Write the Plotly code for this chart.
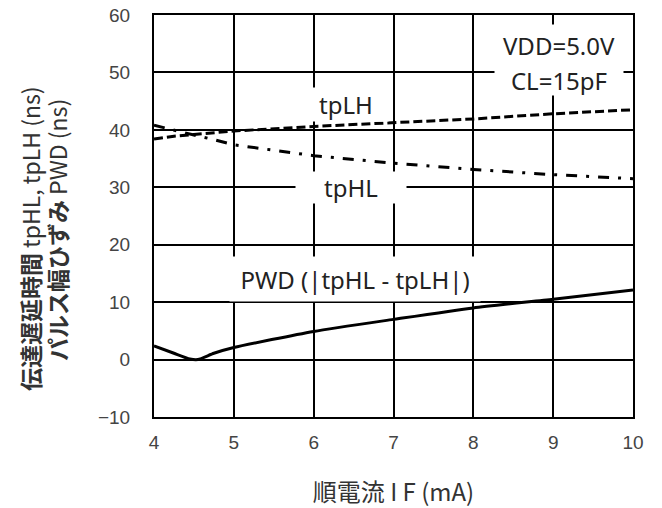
import plotly.graph_objects as go

# Data
x_tp = [4, 4.25, 4.5, 4.75, 5, 6, 7, 8, 9, 10]
tpLH = [38.4, 38.9, 39.2, 39.5, 39.8, 40.6, 41.2, 41.9, 42.8, 43.5]
tpHL = [40.8, 39.9, 39.1, 38.3, 37.4, 35.5, 34.2, 33.1, 32.2, 31.5]
x_pwd = [4, 4.25, 4.45, 4.55, 4.75, 5, 6, 7, 8, 9, 10]
pwd = [2.4, 1.1, 0.1, 0.0, 1.1, 2.1, 4.9, 7.0, 9.0, 10.5, 12.1]
x_ticks = [4, 5, 6, 7, 8, 9, 10]
y_ticks = [-10, 0, 10, 20, 30, 40, 50, 60]
y_ticktext = ["−10", "0", "10", "20", "30", "40", "50", "60"]
y_title_1 = "<b>伝達遅延時間</b> tpHL, tpLH (ns)"
y_title_2 = "<b>パルス幅ひずみ</b> PWD (ns)"

fig = go.Figure()
fig.add_trace(go.Scatter(x=x_tp, y=tpLH, mode="lines",
                         line=dict(color="black", width=3, dash="9px,4px")))
fig.add_trace(go.Scatter(x=x_tp, y=tpHL, mode="lines",
                         line=dict(color="black", width=3, dash="11px,9px,3px,9px")))
fig.add_trace(go.Scatter(x=x_pwd, y=pwd, mode="lines",
                         line=dict(color="black", width=3, shape="spline", smoothing=0.6)))

tick_font = dict(family="Liberation Sans, Arial", size=19, color="#444")
fig.update_xaxes(range=[4, 10], tickvals=x_ticks, showgrid=True, gridcolor="black",
                 gridwidth=2, showline=True, linecolor="black", linewidth=2, mirror=True,
                 zeroline=False, tickfont=tick_font, ticks="", automargin=False,
                 ticklabelstandoff=7,
                 title=dict(text="順電流 I F (mA)", font=dict(family="Noto Sans CJK JP", size=24, color="#333"),
                            standoff=34))
fig.update_yaxes(range=[-10, 60], tickvals=y_ticks, ticktext=y_ticktext, showgrid=True,
                 gridcolor="black", gridwidth=2, showline=True, linecolor="black", linewidth=2,
                 mirror=True, zeroline=False, tickfont=tick_font, ticks="", automargin=False,
                 ticklabelstandoff=18)

title_font = dict(family="Noto Sans CJK JP", size=23, color="#333")
fig.add_annotation(xref="paper", yref="paper", x=-0.259, y=0.445, text=y_title_1,
                   xanchor="center", yanchor="middle",
                   textangle=-90, showarrow=False, font=title_font)
fig.add_annotation(xref="paper", yref="paper", x=-0.2025, y=0.465, text=y_title_2,
                   xanchor="center", yanchor="middle",
                   textangle=-90, showarrow=False, font=title_font)

ann_font = dict(family="Noto Sans, Open Sans", size=24, color="#222")
fig.add_annotation(x=9.07, y=54.8, text="VDD=5.0V", showarrow=False, font=ann_font,
                   bgcolor="white", borderpad=0, width=128, height=40)
fig.add_annotation(x=9.07, y=48.7, text="CL=15pF", showarrow=False, font=ann_font,
                   bgcolor="white", borderpad=0, width=128, height=30)
fig.add_annotation(x=6.4, y=44.35, text="tpLH", showarrow=False, font=ann_font,
                   bgcolor="white", borderpad=0, width=84, height=33)
fig.add_annotation(x=6.47, y=30.0, text="tpHL", showarrow=False, font=ann_font,
                   bgcolor="white", borderpad=0, width=110, height=31)
fig.add_annotation(x=6.52, y=14.05, text="PWD (|tpHL - tpLH|)", showarrow=False, font=ann_font,
                   bgcolor="white", borderpad=0, width=250, height=44)

fig.update_layout(width=662, height=508, showlegend=False, plot_bgcolor="white",
                  paper_bgcolor="white", margin=dict(l=154, r=29, t=15, b=91))
fig.write_html("out.html", config={"displayModeBar": False})

with open("out.html", "r", encoding="utf-8") as f:
    html = f.read()
html = html.replace("<head>", "<head><style>html,body{margin:0;padding:0;}</style>", 1)
with open("out.html", "w", encoding="utf-8") as f:
    f.write(html)
